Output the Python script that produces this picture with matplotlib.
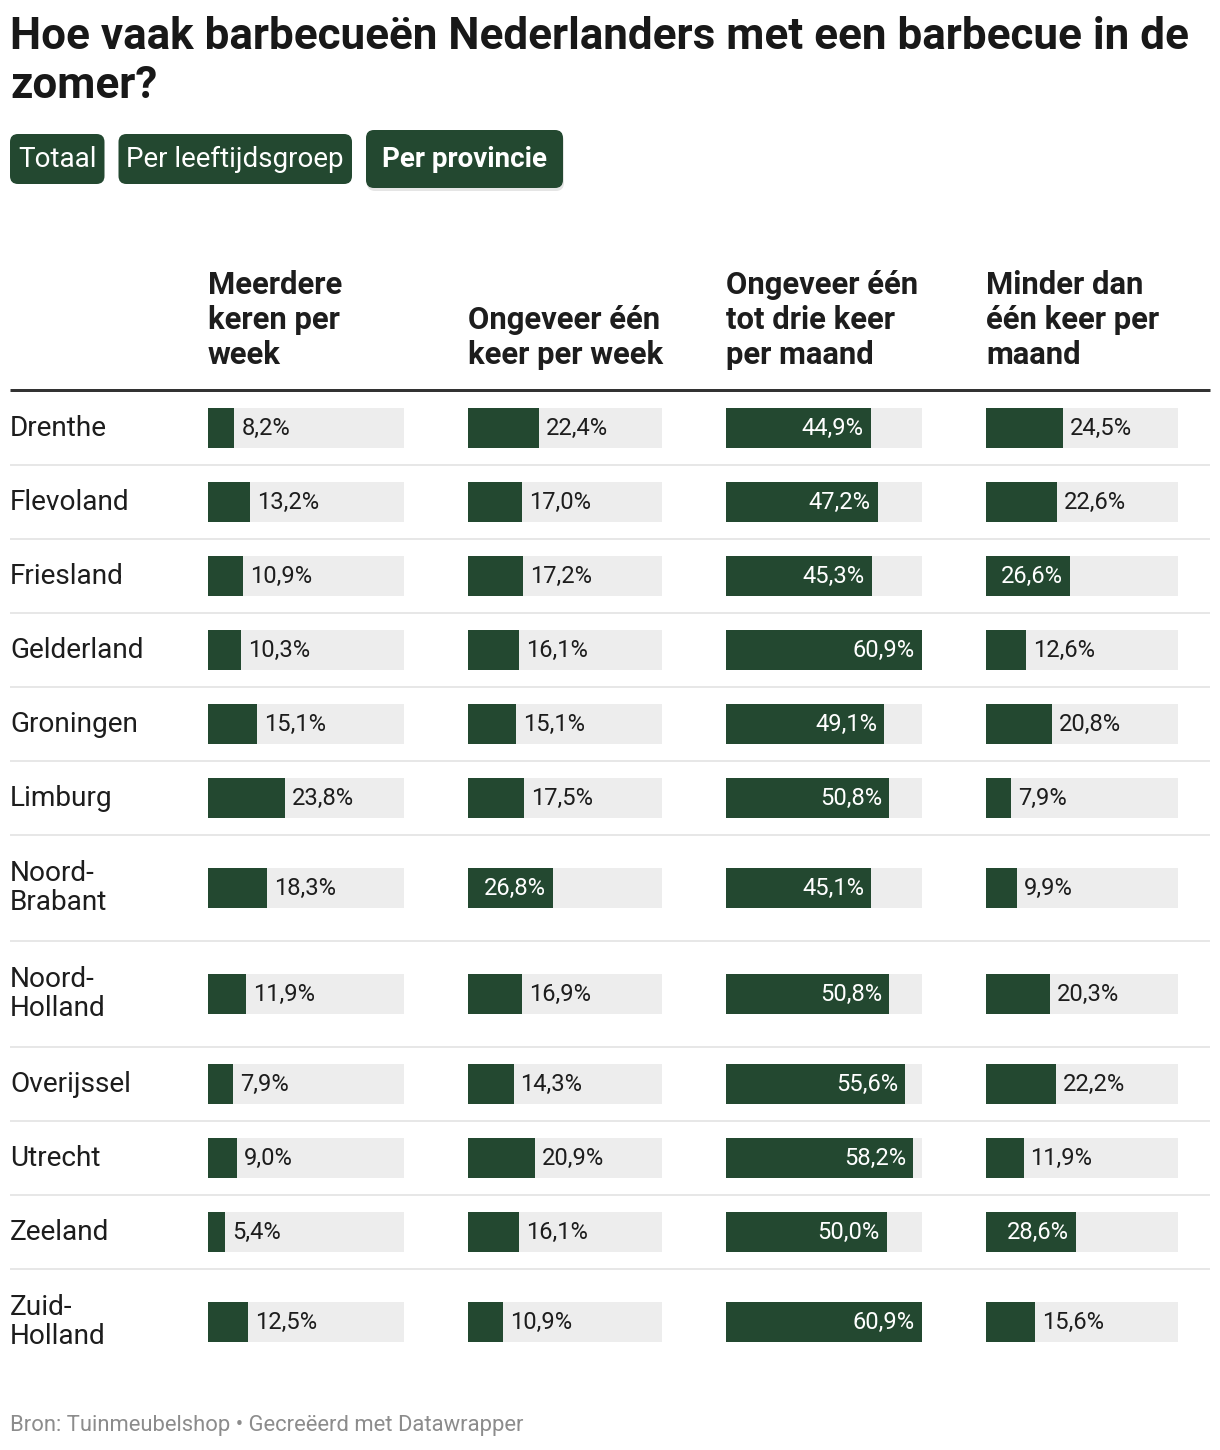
import matplotlib
matplotlib.use("Agg")
import matplotlib.pyplot as plt
from matplotlib.patches import FancyBboxPatch
import numpy as np

# ---------------- data ----------------
title = "Hoe vaak barbecueën Nederlanders met een barbecue in de\nzomer?"
buttons = ["Totaal", "Per leeftijdsgroep", "Per provincie"]
source = "Bron: Tuinmeubelshop • Gecreëerd met Datawrapper"
provinces = ["Drenthe", "Flevoland", "Friesland", "Gelderland", "Groningen",
             "Limburg", "Noord-\nBrabant", "Noord-\nHolland", "Overijssel",
             "Utrecht", "Zeeland", "Zuid-\nHolland"]
columns = ["Meerdere\nkeren per\nweek", "Ongeveer één\nkeer per week",
           "Ongeveer één\ntot drie keer\nper maand", "Minder dan\néén keer per\nmaand"]
meerdere_per_week = [8.2, 13.2, 10.9, 10.3, 15.1, 23.8, 18.3, 11.9, 7.9, 9.0, 5.4, 12.5]
een_per_week = [22.4, 17.0, 17.2, 16.1, 15.1, 17.5, 26.8, 16.9, 14.3, 20.9, 16.1, 10.9]
een_tot_drie_per_maand = [44.9, 47.2, 45.3, 60.9, 49.1, 50.8, 45.1, 50.8, 55.6, 58.2, 50.0, 60.9]
minder_dan_een_per_maand = [24.5, 22.6, 26.6, 12.6, 20.8, 7.9, 9.9, 20.3, 22.2, 11.9, 28.6, 15.6]
series = [meerdere_per_week, een_per_week, een_tot_drie_per_maand, minder_dan_een_per_maand]

# ---------------- style ----------------
plt.rcParams["font.family"] = ["Roboto", "DejaVu Sans"]
GREEN = "#234830"
TRACK = "#ededed"
TXT = "#1d1d1d"
W, H = 1220, 1450
PX = 72 / 100  # px -> pt

fig = plt.figure(figsize=(W / 100, H / 100), dpi=100)
bg = fig.add_axes([0, 0, 1, 1])
bg.set_xlim(0, W)
bg.set_ylim(H, 0)
bg.axis("off")

# title
bg.text(10, 16, title, fontsize=44 * PX, weight="bold", color="#181818",
        va="top", ha="left", linespacing=1.22)

# buttons
bx = 10
for i, b in enumerate(buttons):
    active = i == len(buttons) - 1
    pad = 16 if active else 8
    t = bg.text(bx + pad, 159, b, fontsize=27.8 * PX, color="white",
                weight="bold" if active else "normal", va="center", ha="left", zorder=3)
    fig.canvas.draw()
    tw = t.get_window_extent().width
    w = tw + 2 * pad
    y0, h = (130, 58) if active else (134, 50)
    if active:
        sh = FancyBboxPatch((bx + 1, y0 + 3), w, h, boxstyle="round,pad=0,rounding_size=8",
                            fc="#000000", ec="none", alpha=0.10, zorder=1)
        bg.add_patch(sh)
    p = FancyBboxPatch((bx, y0), w, h, boxstyle="round,pad=0,rounding_size=8",
                       fc=GREEN, ec="none", zorder=2)
    bg.add_patch(p)
    bx += w + 14

# geometry
col_x = [(208, 404), (468, 662), (726, 922), (986, 1178)]
top0 = 391
heights = np.array([106 if "\n" in p else 74 for p in provinces], dtype=float)
edges = top0 + np.cumsum(heights)
centers = edges - heights / 2
bottom = edges[-1]
xmax = max(max(s) for s in series)

# headers
for (x0, x1), c in zip(col_x, columns):
    bg.text(x0, 370, c, fontsize=31 * PX, weight="bold", color=TXT,
            va="bottom", ha="left", linespacing=1.2)
bg.hlines(389.5, 10, 1210, color="#333333", lw=3 * PX)

# row labels and separators
for p, c in zip(provinces, centers):
    bg.text(10, c, p, fontsize=28 * PX, color=TXT, va="center", ha="left",
            linespacing=1.13)
for e in edges[:-1]:
    bg.hlines(e, 10, 1210, color="#e7e7e7", lw=2 * PX)

# bars
for (x0, x1), vals in zip(col_x, series):
    ax = fig.add_axes([x0 / W, 1 - bottom / H, (x1 - x0) / W, (bottom - top0) / H])
    ax.set_xlim(0, xmax)
    ax.set_ylim(bottom, top0)
    ax.axis("off")
    ax.barh(centers, [xmax] * len(vals), height=40, color=TRACK, lw=0)
    ax.barh(centers, vals, height=40, color=GREEN, lw=0)
    for v, c in zip(vals, centers):
        lab = f"{v:.1f}".replace(".", ",") + "%"
        if v >= 25:
            ax.annotate(lab, (v, c), xytext=(-7 * PX, 0), textcoords="offset points",
                        ha="right", va="center", color="white", fontsize=23.8 * PX)
        else:
            ax.annotate(lab, (v, c), xytext=(7 * PX, 0), textcoords="offset points",
                        ha="left", va="center", color=TXT, fontsize=23.8 * PX)

# source
bg.text(10, 1426, source, fontsize=22 * PX, color="#8c8c8c", va="center", ha="left")

fig.savefig("out.png", dpi=100, facecolor="white")
